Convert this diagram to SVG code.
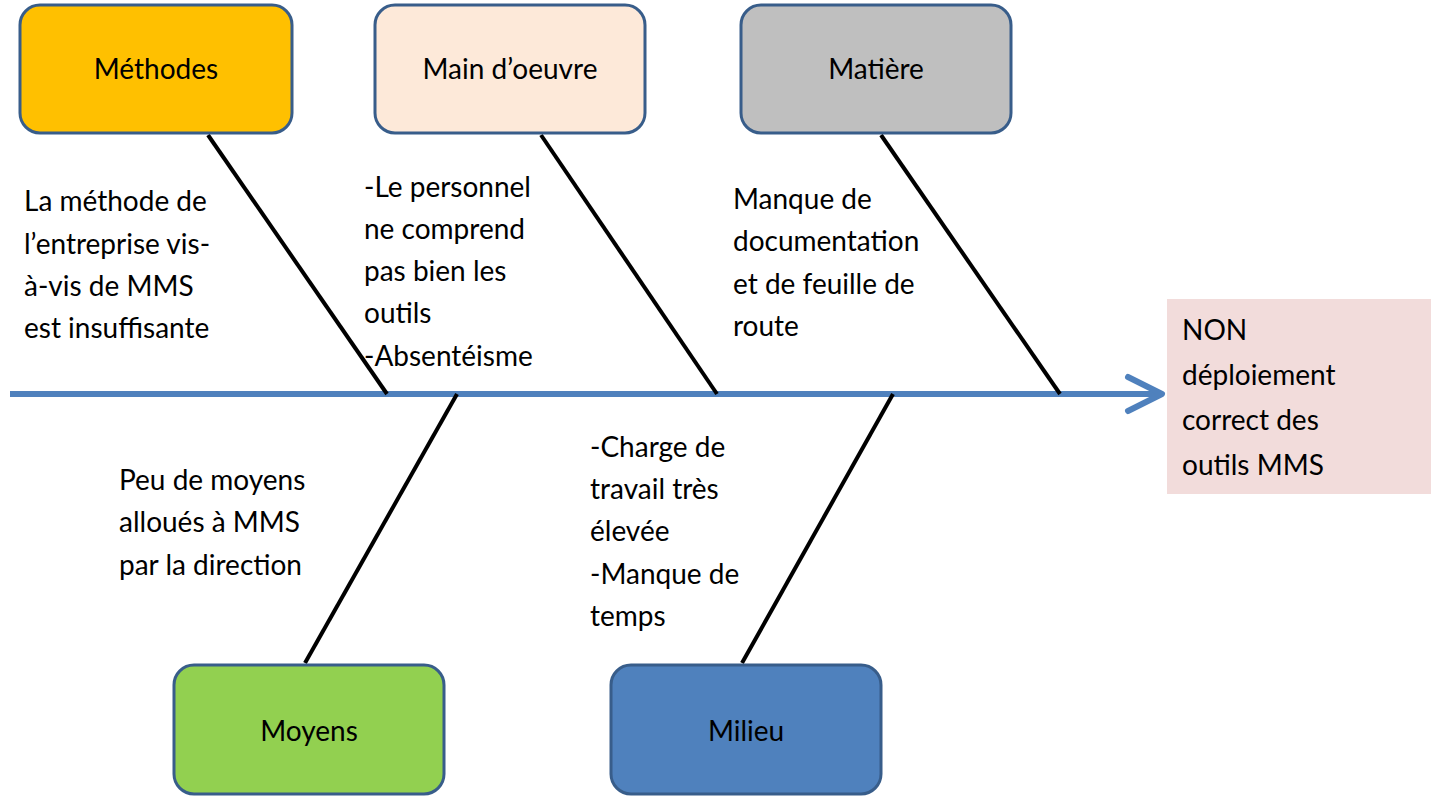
<svg xmlns="http://www.w3.org/2000/svg" width="1434" height="799" viewBox="0 0 1434 799">
<style>
.b{stroke:#385D8A;stroke-width:3}
.t{font-family:Lato,"Open Sans",sans-serif;font-size:28px;fill:#000}
.c{text-anchor:middle}
.l{stroke:#000;stroke-width:4}
</style>
<rect width="1434" height="799" fill="#fff"/>
<g id="connectors">
<line x1="10" y1="394" x2="1160" y2="394" stroke="#4F81BD" stroke-width="6"/>
<polyline points="1128,377 1162,394 1128,411" fill="none" stroke="#4F81BD" stroke-width="6" stroke-linecap="round" stroke-linejoin="round"/>
<line class="l" x1="208" y1="135" x2="387" y2="394"/>
<line class="l" x1="541" y1="135" x2="717" y2="394"/>
<line class="l" x1="881" y1="135" x2="1060" y2="394"/>
<line class="l" x1="457" y1="394" x2="305" y2="663"/>
<line class="l" x1="893" y1="394" x2="742" y2="663"/>
</g>
<g id="methodes"><rect class="b" x="20" y="5" width="272" height="128" rx="20" fill="#FFC000"/><text class="t c" x="156" y="79">Méthodes</text></g>
<g id="main"><rect class="b" x="375" y="5" width="270" height="128" rx="20" fill="#FDE9D9"/><text class="t c" x="510" y="79">Main d’oeuvre</text></g>
<g id="matiere"><rect class="b" x="741" y="5" width="270" height="128" rx="20" fill="#BFBFBF"/><text class="t c" x="876" y="79">Matière</text></g>
<g id="moyens"><rect class="b" x="174" y="665" width="270" height="129" rx="20" fill="#92D050"/><text class="t c" x="309" y="741">Moyens</text></g>
<g id="milieu"><rect class="b" x="611" y="665" width="270" height="129" rx="20" fill="#4F81BD"/><text class="t c" x="746" y="741">Milieu</text></g>
<g id="effet"><rect x="1167" y="299" width="264" height="195" fill="#F2DCDB"/>
<text class="t" x="1182" y="340">NON</text><text class="t" x="1182" y="385">déploiement</text><text class="t" x="1182" y="430">correct des</text><text class="t" x="1182" y="475">outils MMS</text></g>
<g id="labels">
<text class="t" x="24" y="211">La méthode de</text><text class="t" x="24" y="254">l’entreprise vis-</text><text class="t" x="24" y="296">à-vis de MMS</text><text class="t" x="24" y="338">est insuffisante</text>
<text class="t" x="364" y="197">-Le personnel</text><text class="t" x="364" y="239">ne  comprend</text><text class="t" x="364" y="281">pas bien les</text><text class="t" x="364" y="323">outils</text><text class="t" x="364" y="366">-Absentéisme</text>
<text class="t" x="733" y="209">Manque de</text><text class="t" x="733" y="251">documentation</text><text class="t" x="733" y="294">et de feuille de</text><text class="t" x="733" y="336">route</text>
<text class="t" x="119" y="490">Peu de moyens</text><text class="t" x="119" y="532">alloués à MMS</text><text class="t" x="119" y="575">par la direction</text>
<text class="t" x="590" y="457">-Charge de</text><text class="t" x="590" y="499">travail très</text><text class="t" x="590" y="541">élevée</text><text class="t" x="590" y="584">-Manque de</text><text class="t" x="590" y="626">temps</text>
</g>
</svg>
